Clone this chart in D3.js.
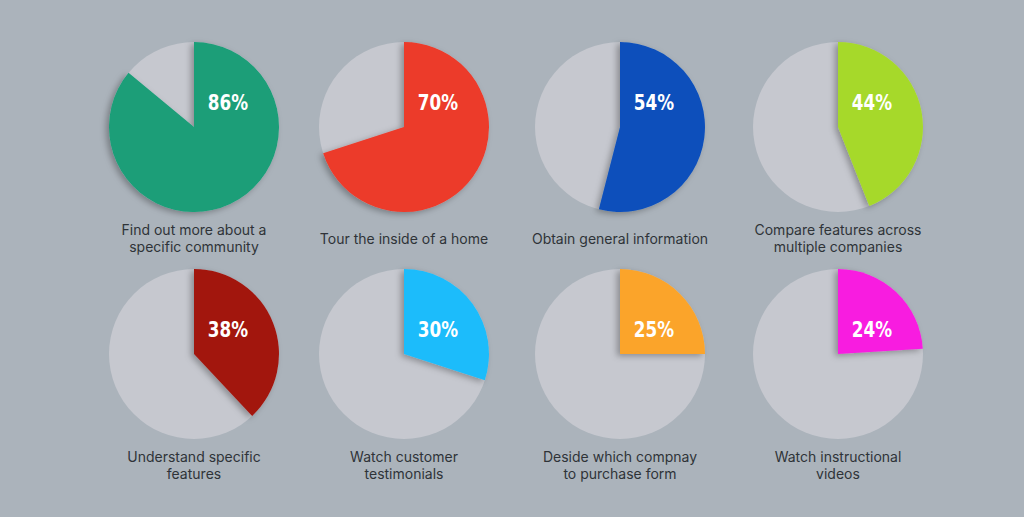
<!DOCTYPE html>
<html><head><meta charset="utf-8">
<script src="https://cdn.jsdelivr.net/npm/d3@7"></script>
<style>body{margin:0;background:#abb3bb;}svg{display:block}</style>
</head><body>
<svg id="chart" width="1024" height="517"></svg>
<script>
const labels = [
  ["Find out more about a", "specific community"],
  ["Tour the inside of a home"],
  ["Obtain general information"],
  ["Compare features across", "multiple companies"],
  ["Understand specific", "features"],
  ["Watch customer", "testimonials"],
  ["Deside which compnay", "to purchase form"],
  ["Watch instructional", "videos"]
];
const values = [86, 70, 54, 44, 38, 30, 25, 24];
const colors = ["#1a9e78", "#ec3a2a", "#0a4fbb", "#a6d92c", "#a2170f", "#1ebcfb", "#fba42a", "#f81fe0"];

const colX = [194, 404, 620, 838];
const rowY = [127, 354];
const radius = 85;

const svg = d3.select("#chart");
const defs = svg.append("defs");
const f = defs.append("filter").attr("id", "sh").attr("x", "-30%").attr("y", "-30%").attr("width", "160%").attr("height", "160%");
f.append("feDropShadow").attr("dx", -3).attr("dy", 2).attr("stdDeviation", 3).attr("flood-color", "#000").attr("flood-opacity", 0.3);

const arc = d3.arc().innerRadius(0).outerRadius(radius);
const pctScale = d3.scaleLinear().domain([0, 100]).range([0, 2 * Math.PI]);

values.forEach((v, i) => {
  const cx = colX[i % 4], cy = rowY[Math.floor(i / 4)];
  const g = svg.append("g").attr("transform", `translate(${cx},${cy})`);
  g.append("circle").attr("r", radius).attr("fill", "#c6c8cf");
  g.append("path")
    .attr("d", arc({startAngle: 0, endAngle: pctScale(v)}))
    .attr("fill", colors[i])
    .attr("filter", "url(#sh)");
  g.append("text")
    .attr("x", 34).attr("y", -17)
    .attr("text-anchor", "middle")
    .attr("fill", "#fff")
    .style("font-family", "'DejaVu Sans Condensed', 'Liberation Sans Narrow', sans-serif")
    .style("font-weight", "bold")
    .style("font-size", "22px")
    .attr("transform", "scale(0.85,1)")
    .attr("x", 34 / 0.85)
    .text(v + "%");
  const t = svg.append("text")
    .attr("text-anchor", "middle")
    .attr("fill", "#2f3338")
    .style("font-family", "Inter, 'Noto Sans', sans-serif")
    .style("font-size", "14px");
  const lines = labels[i];
  const y0 = cy + (lines.length === 1 ? 117 : 108);
  lines.forEach((l, j) => t.append("tspan").attr("x", cx).attr("y", y0 + j * 17).text(l));
});
</script>
</body></html>
